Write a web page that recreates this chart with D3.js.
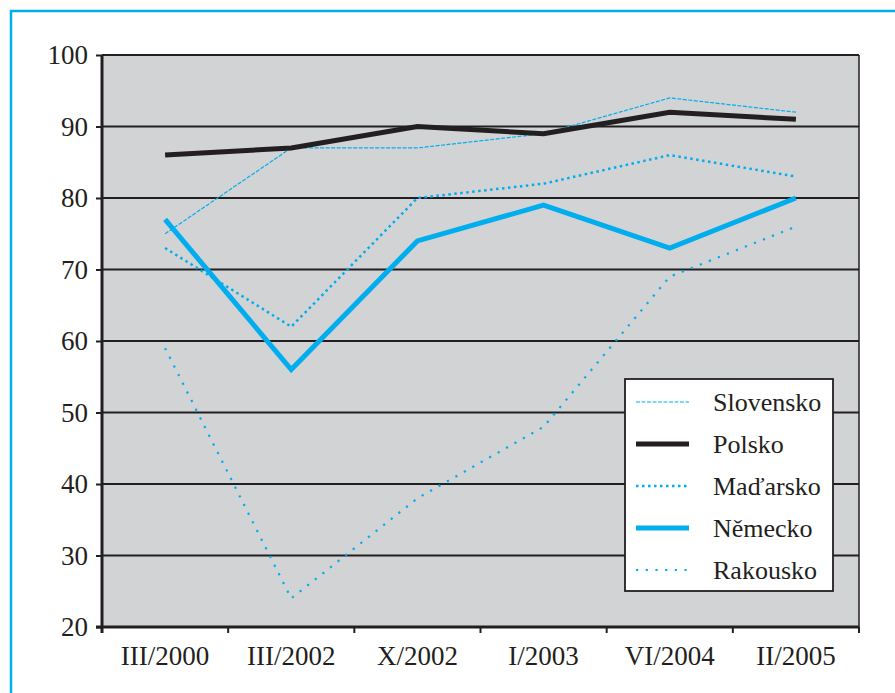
<!DOCTYPE html>
<html><head><meta charset="utf-8">
<script src="https://cdn.jsdelivr.net/npm/d3@7"></script>
<style>body{margin:0;background:#fff;} svg{display:block;}</style>
</head><body>
<svg id="c" width="895" height="693"></svg>
<script>
const categories = ["III/2000","III/2002","X/2002","I/2003","VI/2004","II/2005"];
const slovensko = [75, 87, 87, 89, 94, 92];
const polsko    = [86, 87, 90, 89, 92, 91];
const madarsko  = [73, 62, 80, 82, 86, 83];
const nemecko   = [77, 56, 74, 79, 73, 80];
const rakousko  = [59, 24, 38, 48, 69, 76];
const yTicks = [20,30,40,50,60,70,80,90,100];
const seriesNames = ["Slovensko","Polsko","Maďarsko","Německo","Rakousko"];

const cyan = "#00aeef", dark = "#231f20";
const FONT = "Liberation Serif";
const styles = {
  "Slovensko": {color: cyan, width: 1.2, dash: "4,1.5"},
  "Polsko":    {color: dark, width: 5, dash: null},
  "Maďarsko":  {color: cyan, width: 2.5, dash: "2.5,3.5"},
  "Německo":   {color: cyan, width: 5, dash: null},
  "Rakousko":  {color: cyan, width: 2.2, dash: "2.2,7.5"}
};
const values = {"Slovensko": slovensko, "Polsko": polsko, "Maďarsko": madarsko, "Německo": nemecko, "Rakousko": rakousko};

const svg = d3.select("#c");
const L = 102, R = 859, T = 55, B = 627;

svg.append("rect").attr("x", 11).attr("y", 11).attr("width", 900).attr("height", 700)
  .attr("fill", "none").attr("stroke", cyan).attr("stroke-width", 2.5);

const x = d3.scaleBand().domain(categories).range([L, R]);
const y = d3.scaleLinear().domain([20, 100]).range([B, T]);

svg.append("rect").attr("x", L).attr("y", T).attr("width", R - L).attr("height", B - T)
  .attr("fill", "#d1d3d4");

svg.append("g").selectAll("line").data(yTicks.filter(d => d > 20)).join("line")
  .attr("x1", L).attr("x2", R).attr("y1", d => y(d)).attr("y2", d => y(d))
  .attr("stroke", dark).attr("stroke-width", 2);
svg.append("line").attr("x1", R).attr("x2", R).attr("y1", T).attr("y2", B)
  .attr("stroke", dark).attr("stroke-width", 1.5);

const yAxis = svg.append("g").attr("transform", `translate(${L},0)`)
  .call(d3.axisLeft(y).tickValues(yTicks).tickSize(6).tickPadding(8));
const xAxis = svg.append("g").attr("transform", `translate(0,${B})`)
  .call(d3.axisBottom(x).tickSize(0).tickPadding(19));
const bounds = categories.map(c => x(c)).concat([x(categories[categories.length-1]) + x.bandwidth()]);
svg.append("g").selectAll("line").data(bounds).join("line")
  .attr("x1", d => d).attr("x2", d => d).attr("y1", B).attr("y2", B + 6)
  .attr("stroke", dark).attr("stroke-width", 2);

[yAxis, xAxis].forEach(a => {
  a.attr("font-family", null).attr("font-size", null);
  a.selectAll("path.domain").attr("stroke", dark).attr("stroke-width", 3);
  a.selectAll("line").attr("stroke", dark).attr("stroke-width", 2);
  a.selectAll("text").style("font-family", FONT).style("font-size", "27px").attr("fill", dark);
});
yAxis.select("path.domain").attr("d", `M0,${B+6}V${T}`);
xAxis.select("path.domain").attr("d", `M${L-6},0H${R}`);
yAxis.selectAll("text").attr("dy", "0.32em");

const line = d3.line().x((d, i) => x(categories[i]) + x.bandwidth() / 2).y(d => y(d));
const order = ["Rakousko","Maďarsko","Slovensko","Německo","Polsko"];
order.forEach(n => {
  const s = styles[n];
  svg.append("path").datum(values[n]).attr("d", line)
    .attr("fill", "none").attr("stroke", s.color).attr("stroke-width", s.width)
    .attr("stroke-dasharray", s.dash).attr("stroke-linejoin", "miter");
});

const lg = svg.append("g");
lg.append("rect").attr("x", 625).attr("y", 379).attr("width", 208).attr("height", 212)
  .attr("fill", "#fff").attr("stroke", dark).attr("stroke-width", 1.8);
seriesNames.forEach((n, i) => {
  const s = styles[n];
  const yy = 402 + i * 42;
  lg.append("line").attr("x1", 636).attr("x2", 689).attr("y1", yy).attr("y2", yy)
    .attr("stroke", s.color).attr("stroke-width", s.width)
    .attr("stroke-dasharray", s.dash);
  lg.append("text").attr("x", 713).attr("y", yy).attr("dy", "0.33em")
    .style("font-family", FONT).style("font-size", "26px")
    .attr("fill", dark).text(n);
});
</script>
</body></html>
